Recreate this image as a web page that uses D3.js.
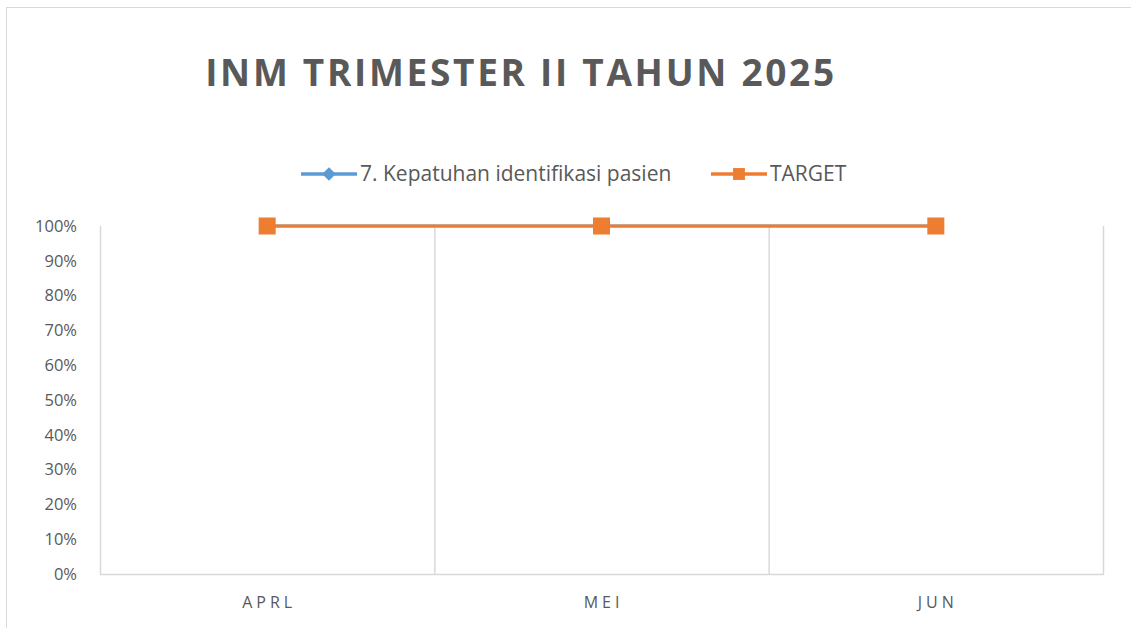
<!DOCTYPE html>
<html>
<head>
<meta charset="utf-8">
<script src="https://cdn.jsdelivr.net/npm/d3@7"></script>
<style>
  body { margin: 0; background: #fff; }
  text { font-family: "Open Sans", "Liberation Sans", sans-serif; fill: #595959; }
</style>
</head>
<body>
<svg width="1131" height="628"></svg>
<script>
const months = ['APRL', 'MEI', 'JUN'];
const kepatuhan = [1, 1, 1];
const target = [1, 1, 1];
const yTicks = [0, 0.1, 0.2, 0.3, 0.4, 0.5, 0.6, 0.7, 0.8, 0.9, 1];

function whenLoaded() {
const svg = d3.select('svg');

// outer chart border
svg.append('rect')
    .attr('x', 6.5).attr('y', 7.5)
    .attr('width', 1140).attr('height', 640)
    .attr('fill', 'none')
    .attr('stroke', '#d9d9d9');

const left = 100, right = 1103, top = 226, bottom = 574;

const x = d3.scaleBand().domain(months).range([left, right]);
const y = d3.scaleLinear().domain([0, 1]).range([bottom, top]);

svg.append('text')
    .attr('x', 521).attr('y', 86)
    .attr('text-anchor', 'middle')
    .style('font-size', '37px')
    .style('font-weight', 'bold')
    .style('letter-spacing', '2.7px')
    .text('INM TRIMESTER II TAHUN 2025');

// vertical gridlines at category boundaries
const bounds = months.map(m => x(m)).concat([right]);
svg.append('g').selectAll('line').data(bounds)
  .enter().append('line')
    .attr('x1', d => d + 0.5).attr('x2', d => d + 0.5)
    .attr('y1', top).attr('y2', bottom)
    .attr('stroke', '#d9d9d9')
    .attr('stroke-width', 1.5);

svg.append('line')
    .attr('x1', left).attr('x2', right + 1)
    .attr('y1', bottom + 0.5).attr('y2', bottom + 0.5)
    .attr('stroke', '#d9d9d9')
    .attr('stroke-width', 1.5);

// y labels
svg.append('g').selectAll('text').data(yTicks)
  .enter().append('text')
    .attr('x', 77)
    .attr('y', d => y(d))
    .attr('dy', '0.35em')
    .attr('text-anchor', 'end')
    .style('font-size', '16.5px')
    .text(d3.format('.0%'));

// x labels
svg.append('g').selectAll('text').data(months)
  .enter().append('text')
    .attr('x', d => x(d) + x.bandwidth() / 2 + 2)
    .attr('y', 608)
    .attr('text-anchor', 'middle')
    .style('font-size', '16px')
    .style('letter-spacing', '4px')
    .text(d => d);

const cx = (d, i) => x(months[i]) + x.bandwidth() / 2;
const line = d3.line().x((d, i) => cx(d, i)).y(d => y(d));

// blue series (hidden under target)
svg.append('path')
    .attr('d', line(kepatuhan))
    .attr('fill', 'none')
    .attr('stroke', '#5b9bd5')
    .attr('stroke-width', 3);
svg.append('g').selectAll('path').data(kepatuhan)
  .enter().append('path')
    .attr('d', d3.symbol(d3.symbolDiamond2, 110))
    .attr('transform', (d, i) => `translate(${cx(d, i)},${y(d)})`)
    .attr('fill', '#5b9bd5');

// target
svg.append('path')
    .attr('d', line(target))
    .attr('fill', 'none')
    .attr('stroke', '#ed7d31')
    .attr('stroke-width', 3);
svg.append('g').selectAll('rect').data(target)
  .enter().append('rect')
    .attr('x', (d, i) => cx(d, i) - 8.5)
    .attr('y', d => y(d) - 8.5)
    .attr('width', 17).attr('height', 17)
    .attr('fill', '#ed7d31');

// legend
const legend = [
  {name: '7. Kepatuhan identifikasi pasien', color: '#5b9bd5', x: 301, kind: 'diamond'},
  {name: 'TARGET', color: '#ed7d31', x: 711, kind: 'square'}
];
const lg = svg.append('g').selectAll('g').data(legend)
  .enter().append('g')
    .attr('transform', d => `translate(${d.x},174)`);
lg.append('line')
    .attr('x1', 0).attr('x2', 56)
    .attr('stroke', d => d.color)
    .attr('stroke-width', 3.5);
lg.append('path')
    .attr('d', d => d.kind === 'diamond'
      ? d3.symbol(d3.symbolDiamond2, 120)()
      : d3.symbol(d3.symbolSquare2, 180)())
    .attr('transform', 'translate(28,0)')
    .attr('fill', d => d.color);
lg.append('text')
    .attr('x', 59)
    .attr('dy', '0.35em')
    .style('font-size', '21px')
    .text(d => d.name);
}

window.onload = whenLoaded;
</script>
</body>
</html>
